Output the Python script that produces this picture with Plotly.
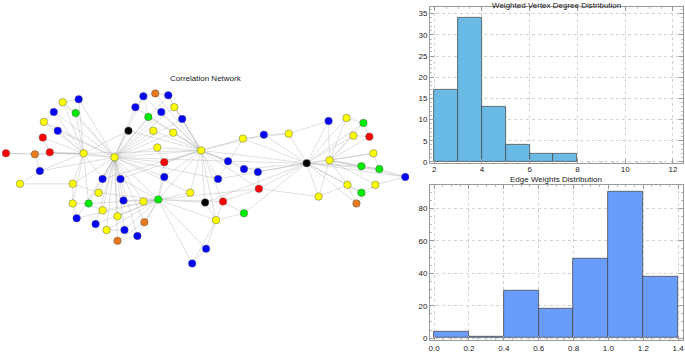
import plotly.graph_objects as go

# ---------------- Network data ----------------
node_x = [61, 77, 52, 74, 42, 56, 41, 127, 134, 4, 33, 48, 82, 113, 38,
          142, 154, 167, 173, 160, 147, 181, 152, 172, 156, 200, 163, 163,
          242, 263, 227, 243, 257, 217, 288, 328, 346, 363, 353, 369, 373,
          306, 329, 361, 379, 405, 18, 71, 101, 119, 97, 71, 87, 122, 101,
          116, 75, 94, 105, 123, 136, 116, 189, 142, 157, 204, 222, 258, 243,
          215, 143, 205, 191, 347, 375, 361, 356, 318]
node_y = [104, 101, 114, 115, 124, 133, 140, 133, 109, 156, 157, 155, 156, 160, 174,
          98, 95, 97, 109, 114, 119, 121, 133, 135, 150, 153, 165, 180,
          141, 137, 164, 172, 175, 182, 136, 123, 120, 125, 138, 139, 156,
          166, 163, 169, 172, 180, 187, 187, 182, 182, 196, 207, 207, 204, 214,
          220, 222, 228, 234, 234, 240, 245, 196, 205, 203, 206, 205, 192, 217,
          224, 226, 253, 268, 188, 188, 196, 207, 200]
node_group = ["Y", "B", "B", "G", "Y", "B", "R", "K", "B", "R", "O", "R", "Y", "Y", "B",
              "B", "O", "B", "Y", "B", "G", "B", "Y", "Y", "Y", "Y", "R", "B",
              "Y", "B", "B", "B", "B", "B", "Y", "B", "Y", "G", "Y", "R", "Y",
              "K", "Y", "G", "G", "B", "Y", "Y", "B", "B", "Y", "Y", "G", "B", "Y",
              "Y", "B", "B", "Y", "B", "B", "O", "Y", "Y", "G", "K", "R", "R", "G",
              "Y", "O", "B", "B", "Y", "Y", "G", "O", "Y"]
# edges as 1-based node numbers
edges = [
    (1, 2), (1, 13), (1, 14), (2, 13), (2, 14), (3, 13), (3, 14), (3, 5),
    (4, 1), (4, 13), (4, 14), (5, 13), (5, 14), (6, 13), (6, 14), (7, 12), (7, 13),
    (10, 11), (10, 13), (11, 13), (11, 15), (12, 13), (12, 14),
    (15, 13), (15, 14), (15, 47), (47, 48), (48, 13), (48, 14), (48, 51), (48, 52),
    (8, 14), (8, 26), (8, 13), (9, 14), (9, 26), (13, 14), (14, 26), (13, 26),
    (16, 17), (16, 14), (16, 26), (16, 9), (17, 18), (17, 26), (18, 19), (18, 26), (18, 14),
    (19, 26), (19, 14), (20, 14), (20, 26), (21, 14), (21, 26), (21, 16),
    (22, 19), (22, 26), (22, 14), (23, 14), (23, 26), (24, 26), (24, 14),
    (25, 14), (25, 26), (25, 27), (27, 14), (27, 26), (27, 65), (28, 26), (28, 65), (28, 14),
    (29, 26), (29, 34), (29, 35), (29, 42), (30, 26), (30, 35), (30, 42),
    (31, 26), (31, 42), (31, 14), (32, 26), (32, 42), (33, 26), (33, 42), (33, 68),
    (34, 26), (34, 14), (34, 42), (35, 42), (35, 36), (26, 42),
    (36, 42), (36, 43), (37, 42), (37, 43), (37, 38), (38, 42), (38, 43), (38, 40),
    (39, 42), (39, 43), (39, 40), (40, 43), (41, 42), (41, 43), (41, 45), (43, 42),
    (44, 42), (44, 43), (44, 45), (45, 42), (45, 43), (45, 46), (46, 43), (46, 42), (46, 75),
    (74, 42), (74, 43), (74, 76), (75, 43), (75, 76), (76, 42), (77, 74), (77, 75), (77, 42),
    (78, 42), (78, 43), (78, 68), (78, 74),
    (49, 14), (49, 26), (49, 13), (50, 14), (50, 26), (50, 65), (51, 14), (51, 65),
    (52, 53), (52, 57), (52, 13), (53, 14), (53, 65), (53, 13), (54, 14), (54, 65),
    (55, 14), (55, 65), (55, 53), (56, 14), (56, 65), (57, 14), (57, 65), (58, 14), (58, 65),
    (59, 14), (59, 65), (59, 60), (60, 14), (60, 65), (61, 14), (61, 65), (61, 62),
    (62, 71), (62, 14), (63, 65), (63, 26), (63, 14), (64, 65), (64, 14), (65, 14), (65, 26),
    (66, 65), (66, 26), (66, 42), (66, 70), (67, 65), (67, 26), (67, 70), (67, 68),
    (68, 42), (68, 65), (68, 26), (69, 70), (69, 42), (69, 67), (70, 65), (70, 72), (70, 73),
    (70, 26), (71, 65), (71, 14), (72, 65), (72, 73), (73, 65),
]
group_colors = {"Y": "#FFFF00", "B": "#0000FF", "G": "#00EE00", "R": "#FF0000",
                "O": "#E8791A", "K": "#000000"}

# ---------------- Histogram data ----------------
deg_edges = [2, 3, 4, 5, 6, 7, 8]
deg_counts = [17, 34, 13, 4, 2, 2]
w_edges = [0.0, 0.2, 0.4, 0.6, 0.8, 1.0, 1.2, 1.4]
w_counts = [4, 1, 29, 18, 49, 90, 38]

W, H = 685, 353
fig = go.Figure()

# edges
ex, ey = [], []
for a, b in edges:
    ex += [node_x[a - 1], node_x[b - 1], None]
    ey += [node_y[a - 1], node_y[b - 1], None]
fig.add_trace(go.Scatter(x=ex, y=ey, mode="lines", xaxis="x", yaxis="y",
                         line=dict(color="rgba(165,165,165,0.5)", width=0.7),
                         hoverinfo="skip", showlegend=False))
fig.add_trace(go.Scatter(x=node_x, y=node_y, mode="markers", xaxis="x", yaxis="y",
                         marker=dict(size=7.5, color=[group_colors[g] for g in node_group],
                                     line=dict(color="rgba(90,90,90,0.8)", width=0.6)),
                         showlegend=False))

def bar_trace(edges_, counts, color, xa, ya):
    centers = [(edges_[i] + edges_[i + 1]) / 2 for i in range(len(counts))]
    widths = [edges_[i + 1] - edges_[i] for i in range(len(counts))]
    return go.Bar(x=centers, y=counts, width=widths, xaxis=xa, yaxis=ya,
                  marker=dict(color=color, line=dict(color="rgba(70,70,70,0.75)", width=1)),
                  showlegend=False)

fig.add_trace(bar_trace(deg_edges, deg_counts, "#69BBE6", "x2", "y2"))
fig.add_trace(bar_trace(w_edges, w_counts, "#6A9CFC", "x3", "y3"))

font = dict(family="Liberation Sans, Arial, sans-serif", size=8, color="#222")
frame = dict(showline=True, mirror="ticks", linecolor="#999", linewidth=1,
             ticks="inside", ticklen=4, tickcolor="#999", tickfont=font,
             showgrid=True, gridcolor="#d2d2d2", griddash="dot", gridwidth=1,
             zeroline=False, ticklabeloverflow="allow")

def px(v):
    return v / W

def py(v):
    return 1 - v / H

title_font = dict(family="Liberation Sans, Arial", size=8, color="#222")

fig.update_layout(
    width=W, height=H, margin=dict(l=0, r=0, t=0, b=0),
    paper_bgcolor="white", plot_bgcolor="white", bargap=0,
    xaxis=dict(domain=[0, px(420)], range=[0, 420], visible=False),
    yaxis=dict(domain=[0, 1], range=[H, 0], visible=False),
    xaxis2=dict(domain=[px(430), px(684)], range=[1.83, 12.42], anchor="y2",
                tickvals=[2, 4, 6, 8, 10, 12], ticklabelstandoff=-2,
                minor=dict(dtick=0.5, ticks="inside", ticklen=2, tickcolor="#bbb"),
                **frame),
    yaxis2=dict(domain=[py(166), py(7)], range=[-0.3, 36.6], anchor="x2",
                tickvals=[0, 5, 10, 15, 20, 25, 30, 35],
                minor=dict(dtick=1, ticks="inside", ticklen=2, tickcolor="#bbb"),
                **frame),
    xaxis3=dict(domain=[px(430), px(684)], range=[-0.023, 1.428], anchor="y3",
                tickvals=[0, 0.2, 0.4, 0.6, 0.8, 1.0, 1.2, 1.4], tickformat=".1f",
                minor=dict(dtick=0.05, ticks="inside", ticklen=2, tickcolor="#bbb"),
                **frame),
    yaxis3=dict(domain=[py(346), py(188)], range=[-1.2, 94.5], anchor="x3",
                tickvals=[0, 20, 40, 60, 80],
                minor=dict(dtick=5, ticks="inside", ticklen=2, tickcolor="#bbb"),
                **frame),
    annotations=[
        dict(text="Correlation Network", x=px(205), y=py(80), xref="paper", yref="paper",
             xanchor="center", yanchor="middle", showarrow=False, font=title_font),
        dict(text="Weighted Vertex Degree Distribution", x=px(557), y=1, xref="paper",
             yref="paper", xanchor="center", yanchor="top", showarrow=False,
             font=title_font, borderpad=0),
        dict(text="Edge Weights Distribution", x=px(556), y=py(188), xref="paper",
             yref="paper", xanchor="center", yanchor="bottom", showarrow=False,
             font=title_font, borderpad=0),
    ],
)

fig.write_html("out.html", config={"displayModeBar": False},
               post_script="document.body.style.margin='0px';"
                           "document.body.style.overflow='hidden';")
